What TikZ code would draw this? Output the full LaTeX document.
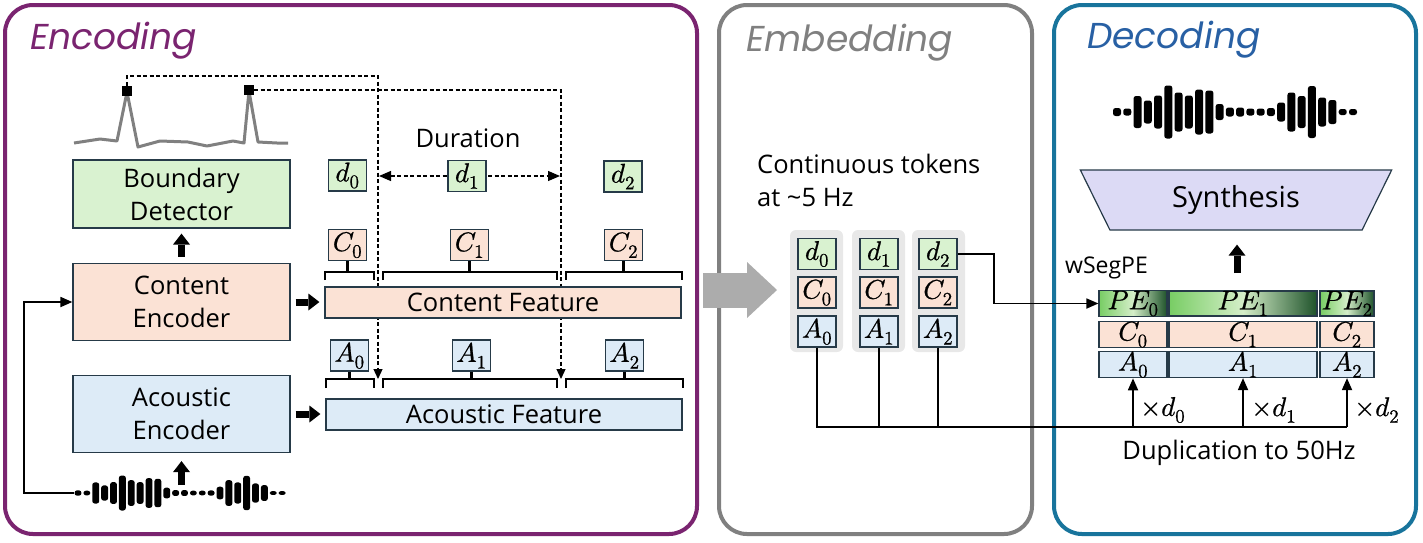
\documentclass[tikz,border=0pt]{standalone}
\usepackage{fontspec}
\usepackage{unicode-math}
\setmainfont{Open Sans}
\newfontfamily\titlefont{Poppins}
\setmathfont{Latin Modern Math}[FakeBold=0.8]
\usepackage{xcolor}
\usepackage{tikz}
\usetikzlibrary{arrows.meta,calc,shapes.geometric}

\definecolor{encpurple}{RGB}{122,36,112}
\definecolor{embgray}{RGB}{128,128,128}
\definecolor{decblue}{RGB}{24,116,156}
\definecolor{decink}{RGB}{40,96,164}
\definecolor{durgreen}{RGB}{217,242,208}
\definecolor{conpeach}{RGB}{251,226,213}
\definecolor{acoblue}{RGB}{221,235,247}
\definecolor{synlav}{RGB}{220,218,245}
\definecolor{boxline}{RGB}{38,58,72}
\definecolor{tokbg}{RGB}{232,232,232}
\definecolor{bigarrow}{RGB}{172,172,172}
\definecolor{pegreen}{RGB}{120,205,100}
\definecolor{pelight}{RGB}{212,238,200}
\definecolor{pedark}{RGB}{30,82,42}

\begin{document}
\begin{tikzpicture}[x=1pt,y=-1pt,
  panel/.style={rounded corners=28pt,line width=4pt},
  paneltitle/.style={anchor=base west,inner sep=0pt,font=\titlefont\itshape\fontsize{36}{36}\selectfont},
  txt/.style={inner sep=0pt,font=\fontsize{25.5}{33}\selectfont},
  block/.style={draw=boxline,line width=1.2pt,minimum width=217pt,minimum height=77pt,inner sep=0pt,align=center,font=\fontsize{25.5}{33}\selectfont},
  tok/.style={draw=boxline,line width=1.2pt,minimum width=38pt,minimum height=31pt,inner sep=0pt,font=\fontsize{27}{27}\selectfont},
  featbar/.style={draw=boxline,line width=1.2pt,minimum width=356pt,minimum height=31pt,inner sep=0pt,font=\fontsize{25.5}{30}\selectfont},
  seg/.style={draw=boxline,line width=1.2pt,minimum height=25pt,inner sep=0pt,font=\fontsize{27}{27}\selectfont},
  pefill/.style={left color=pegreen,right color=pedark,middle color=pelight},
  brk/.style={line width=2.4pt},
  wire/.style={line width=1.8pt},
  dashlink/.style={line width=1.2pt,dash pattern=on 4pt off 2.5pt},
  fatarrow/.style={line width=7pt,-{Triangle[length=11pt,width=17pt,line width=0pt]}},
  peak/.style={fill=black,minimum size=10pt,inner sep=0pt}
]
\useasboundingbox (0,0) rectangle (1423,542);

% PANELS
\draw[panel,draw=encpurple] (5,5) rectangle (697,534);
\draw[panel,draw=embgray] (719,5) rectangle (1032,534);
\draw[panel,draw=decblue] (1054,5) rectangle (1416,534);
\node[paneltitle,encpurple] (enctxt) at (30,49) {Encoding};
\node[paneltitle,embgray] (embtxt) at (746,51) {Embedding};
\node[paneltitle,decink] (dectxt) at (1087,48) {Decoding};

% ENCODING: boundary curve with its two peaks
\draw[embgray,line width=3pt,line join=round] (74,143) -- (100,139) -- (117,141) -- (127,92) -- (138,147) -- (160,141) -- (188,142) -- (207,146) -- (233,141) -- (244,143) -- (249,91) -- (258,142) -- (277,143) -- (288,143);
\node[peak] (pk1) at (127,91) {};
\node[peak] (pk2) at (249,90) {};
\coordinate (hop1) at (378,76);
\coordinate (cut1) at (378,379);
\coordinate (cut2) at (561,379);
\coordinate (durl) at (379,176);
\coordinate (durr) at (560,176);
\draw[dashlink,-{Triangle[length=10pt,width=9pt]}] (pk1.north) |- (hop1) -- (cut1);
\draw[dashlink,-{Triangle[length=10pt,width=9pt]}] (pk2.east) -| (cut2);
\draw[dashlink,{Triangle[length=12pt,width=10pt]}-{Triangle[length=12pt,width=10pt]}] (durl) -- (durr);
\node[txt] (durtxt) at (468,138) {Duration};

% ENCODING: modules
\node[block,fill=durgreen,minimum height=68pt] (bdet) at (181.5,194) {Boundary\\Detector};
\node[block,fill=conpeach] (cenc) at (181.5,302) {Content\\Encoder};
\node[block,fill=acoblue] (aenc) at (181.5,414) {Acoustic\\Encoder};
\draw[fatarrow,shorten <=6pt,shorten >=5pt] (cenc) -- (bdet);

% ENCODING: input waveform
\begin{scope}[shift={(78,493)},xscale=0.865,yscale=0.66]
\foreach \h [count=\i from 0] in {8,7,32,23,33,53,39,33,45,43,16,9,9,7,7,8,19,39,32,52,29,24,6,6}
  \fill[rounded corners=2.5pt] (\i*10.26-4,-\h/2) rectangle ++(8,\h);
\end{scope}
\coordinate (wavein) at (74,493);
\coordinate (wavemid) at (181.5,485);
\draw[fatarrow,shorten >=8pt] (wavemid) -- (aenc);
\draw[wire,-{Triangle[length=12pt,width=10pt]}] (wavein) -- ++(-50,0) |- (cenc.west);

% ENCODING: features
\node[featbar,fill=conpeach] (cfeat) at (503,302.5) {Content Feature};
\node[featbar,fill=acoblue] (afeat) at (504,414.5) {Acoustic Feature};
\draw[fatarrow,shorten <=5pt,shorten >=5pt] (cenc.east) -- (cenc.east -| cfeat.west);
\draw[fatarrow,shorten <=5pt,shorten >=5pt] (aenc.east) -- (aenc.east -| afeat.west);

% ENCODING: segment tokens and brackets
\node[tok,fill=durgreen] (ed0) at (347.5,175.5) {$d_0$};
\node[tok,fill=durgreen] (ed1) at (467,176) {$d_1$};
\node[tok,fill=durgreen] (ed2) at (623,176.5) {$d_2$};
\node[tok,fill=conpeach] (ec0) at (347.5,245) {$C_0$};
\node[tok,fill=conpeach] (ec1) at (469.5,245) {$C_1$};
\node[tok,fill=conpeach] (ec2) at (623.5,245) {$C_2$};
\node[tok,fill=acoblue] (ea0) at (349.5,355.5) {$A_0$};
\node[tok,fill=acoblue] (ea1) at (471.5,355.5) {$A_1$};
\node[tok,fill=acoblue] (ea2) at (624.5,355.5) {$A_2$};
\foreach \l/\r in {325/374,383/557,566/682}
  \draw[brk] (\l,280) |- (\r,272) -- (\r,280);
\foreach \l/\r in {326/374,383/557,566/683}
  \draw[brk] (\l,388) |- (\r,379) -- (\r,388);
\foreach \k in {0,1,2} {
  \draw[brk] (ec\k.south) -- ++(0,12);
  \draw[brk] (ea\k.south) -- ++(0,8);
}

% ARROW: encoding -> embedding
\coordinate (bigfrom) at (703,290);
\coordinate (bigto) at (777,290);
\draw[bigarrow,line width=35pt,-{Triangle[length=30pt,width=56pt,line width=0pt]}] (bigfrom) -- (bigto);

% EMBEDDING: continuous tokens
\node[txt,anchor=north west,align=left] (cttxt) at (757,153.5) {Continuous tokens\\at \textasciitilde5 Hz};
\fill[tokbg,rounded corners=6pt] (790,230) rectangle (843,352);
\fill[tokbg,rounded corners=6pt] (852,230) rectangle (905,352);
\fill[tokbg,rounded corners=6pt] (912,230) rectangle (965,352);
\node[tok,fill=durgreen] (d0tok) at (817,254) {$d_0$};
\node[tok,fill=durgreen] (d1tok) at (879,254) {$d_1$};
\node[tok,fill=durgreen] (d2tok) at (938,254) {$d_2$};
\node[tok,fill=conpeach] (c0tok) at (817,292.5) {$C_0$};
\node[tok,fill=conpeach] (c1tok) at (879,292.5) {$C_1$};
\node[tok,fill=conpeach] (c2tok) at (938,292.5) {$C_2$};
\node[tok,fill=acoblue] (a0tok) at (817,331.5) {$A_0$};
\node[tok,fill=acoblue] (a1tok) at (879,331.5) {$A_1$};
\node[tok,fill=acoblue] (a2tok) at (938,331.5) {$A_2$};

% DECODING: output waveform
\begin{scope}[shift={(1117,112)}]
\foreach \h [count=\i from 0] in {8,7,32,23,33,53,39,33,45,43,16,9,9,7,7,8,19,39,32,52,29,24,6,6}
  \fill[rounded corners=2.5pt] (\i*10.26-4,-\h/2) rectangle ++(8,\h);
\end{scope}
\node[trapezium,shape border rotate=180,trapezium angle=62.7,trapezium stretches=true,minimum width=312pt,minimum height=60pt,inner sep=0pt,draw=boxline,line width=1.2pt,fill=synlav,font=\fontsize{29}{30}\selectfont] (synth) at (1236,200) {Synthesis};
\coordinate (synin) at (1237,273);
\draw[fatarrow,shorten >=14pt] (synin) -- (synin |- synth.south);
\node[txt,anchor=west,font=\fontsize{23}{26}\selectfont] (segtxt) at (1065,268) {wSegPE};

% DECODING: duplicated rows
\node[seg,pefill,minimum width=68pt] (pe0) at (1133,303.5) {$PE_0$};
\node[seg,pefill,minimum width=148pt] (pe1) at (1243,303.5) {$PE_1$};
\node[seg,pefill,minimum width=54pt] (pe2) at (1347,303.5) {$PE_2$};
\node[seg,fill=conpeach,minimum width=68pt] (pc0) at (1133,334.5) {$C_0$};
\node[seg,fill=conpeach,minimum width=148pt] (pc1) at (1243,334.5) {$C_1$};
\node[seg,fill=conpeach,minimum width=54pt] (pc2) at (1347,334.5) {$C_2$};
\node[seg,fill=acoblue,minimum width=68pt] (pa0) at (1133,364.5) {$A_0$};
\node[seg,fill=acoblue,minimum width=148pt] (pa1) at (1243,364.5) {$A_1$};
\node[seg,fill=acoblue,minimum width=54pt] (pa2) at (1347,364.5) {$A_2$};
\draw[wire,-{Triangle[length=12pt,width=10pt]}] (d2tok.east) -- ++(36,0) |- (pe0.west);

% DUPLICATION
\coordinate (dup0) at (1133,427);
\coordinate (dup1) at (1243,427);
\coordinate (dup2) at (1347,427);
\draw[wire] (a0tok.south) |- (dup2);
\draw[wire] (a1tok.south) -- (a1tok.south |- dup2);
\draw[wire] (a2tok.south) -- (a2tok.south |- dup2);
\foreach \k in {0,1,2}
  \draw[wire,-{Triangle[length=12pt,width=10pt]}] (dup\k) -- (pa\k.south);
\node[txt,anchor=west,font=\fontsize{27}{27}\selectfont] (mul0) at (1140,410) {$\times d_0$};
\node[txt,anchor=west,font=\fontsize{27}{27}\selectfont] (mul1) at (1251,410) {$\times d_1$};
\node[txt,anchor=west,font=\fontsize{27}{27}\selectfont] (mul2) at (1354,410) {$\times d_2$};
\node[txt] (duptxt) at (1239,453) {Duplication to 50Hz};
\end{tikzpicture}
\end{document}
